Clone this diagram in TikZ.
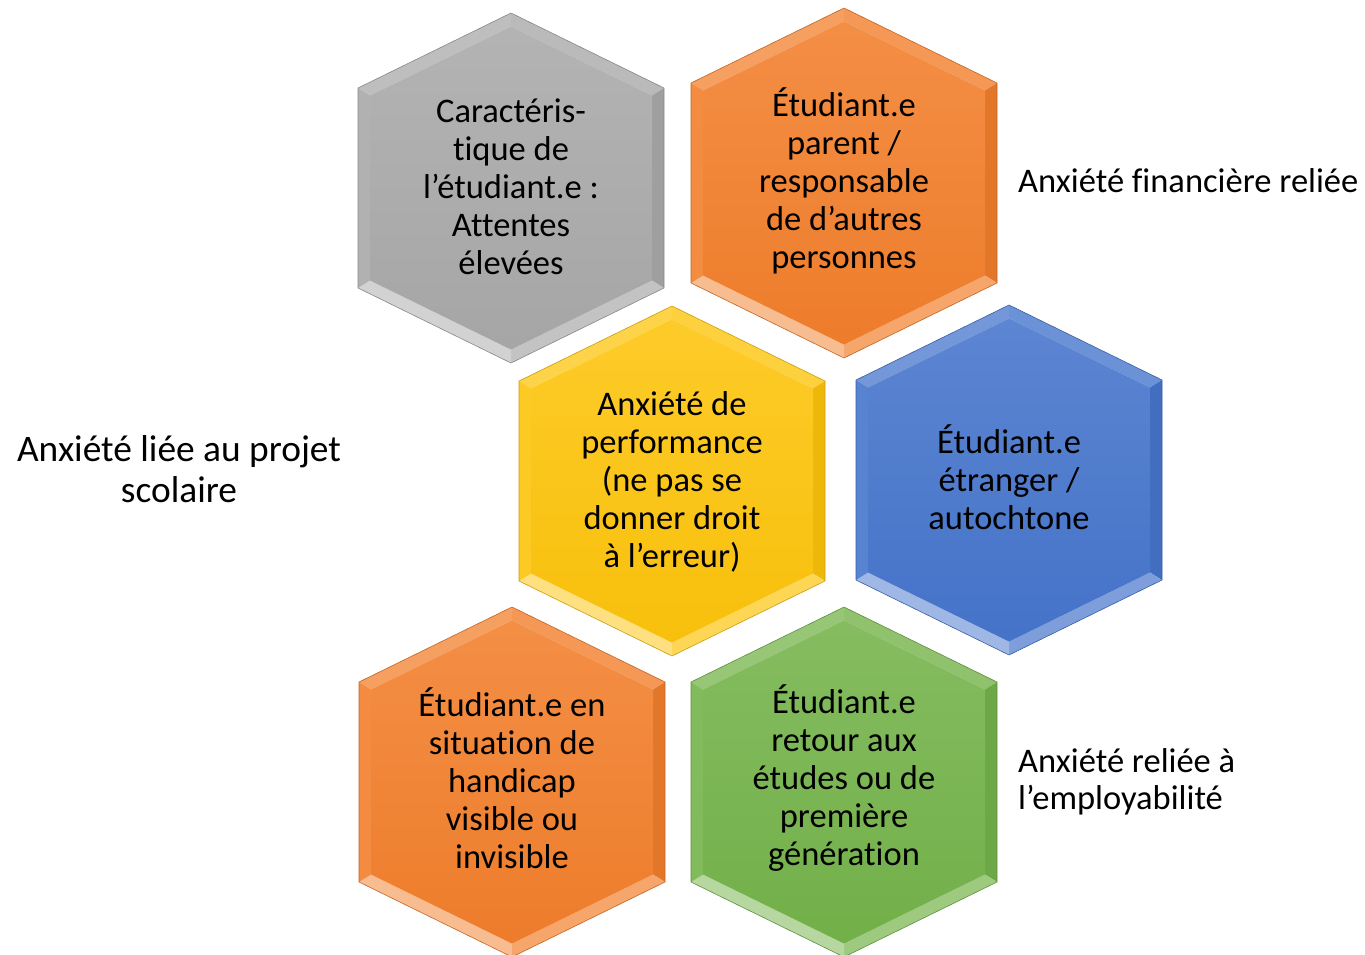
\documentclass[tikz,border=0pt]{standalone}
\usepackage{fontspec}
\setmainfont{Carlito}[Ligatures=NoCommon]
\definecolor{hgray}{HTML}{A9A9A9}
\definecolor{horange}{HTML}{F27F2C}
\definecolor{hyellow}{HTML}{FDC40C}
\definecolor{hblue}{HTML}{4675CC}
\definecolor{hgreen}{HTML}{74B34A}
\tikzset{
  hextext/.style={align=center, inner sep=0pt, font=\fontsize{34.5}{38}\selectfont, text=black},
  sidetext/.style={inner sep=0pt, font=\fontsize{34.5}{38}\selectfont, text=black},
}
\newcommand\hexcell[4]{%
\begin{scope}[shift={(#2,#3)}]
  \coordinate (#1) at (0,0);
  % facets of the bevel
  \fill[#4!75!white] (-153,-100)--(0,-175)--(0,-161.6)--(-141,-92.5)--cycle;
  \fill[#4!80!white] (0,-175)--(153,-100)--(141,-92.5)--(0,-161.6)--cycle;
  \fill[#4!94!black] (153,-100)--(153,100)--(141,92.5)--(141,-92.5)--cycle;
  \fill[#4!70!white] (153,100)--(0,175)--(0,161.6)--(141,92.5)--cycle;
  \fill[#4!52!white] (0,175)--(-153,100)--(-141,92.5)--(0,161.6)--cycle;
  \fill[#4!90!white] (-153,100)--(-153,-100)--(-141,-92.5)--(-141,92.5)--cycle;
  % face
  \shade[top color=#4!88!white, bottom color=#4!98!black]
    (0,-161.6)--(141,-92.5)--(141,92.5)--(0,161.6)--(-141,92.5)--(-141,-92.5)--cycle;
  % outline
  \draw[#4!80!black, line width=0.6pt, line join=round]
    (0,-175)--(153,-100)--(153,100)--(0,175)--(-153,100)--(-153,-100)--cycle;
\end{scope}}
\begin{document}
\begin{tikzpicture}[x=1pt,y=-1pt]
  \useasboundingbox (0,0) rectangle (1365,954);
  \hexcell{hA}{511}{188}{hgray}
  \hexcell{hB}{844}{183}{horange}
  \hexcell{hC}{672}{481}{hyellow}
  \hexcell{hD}{1009}{480}{hblue}
  \hexcell{hE}{512}{782}{horange}
  \hexcell{hF}{844}{782}{hgreen}

  \node[hextext] (tA) at ([yshift=1pt]hA) {Caractéris-\\tique de\\l’étudiant.e :\\Attentes\\élevées};
  \node[hextext] (tB) at ([yshift=2pt]hB) {Étudiant.e\\parent /\\responsable\\de d’autres\\personnes};
  \node[hextext] (tC) at ([yshift=-1pt]hC) {Anxiété de\\performance\\(ne pas se\\donner droit\\à l’erreur)};
  \node[hextext] (tD) at ([yshift=3pt]hD) {Étudiant.e\\étranger /\\autochtone};
  \node[hextext] (tE) at ([yshift=4pt]hE) {Étudiant.e en\\situation de\\handicap\\visible ou\\invisible};
  \node[hextext] (tF) at ([yshift=4pt]hF) {Étudiant.e\\retour aux\\études ou de\\première\\génération};

  \node[sidetext, anchor=west] (lfin) at (1018,181) {Anxiété financière reliée};
  \node[sidetext, align=center, font=\fontsize{37.4}{41}\selectfont] (lproj) at (179,469) {Anxiété liée au projet\\scolaire};
  \node[sidetext, align=left, anchor=west, font=\fontsize{34.5}{37}\selectfont] (lemp) at (1018,782) {Anxiété reliée à\\l’employabilité};
\end{tikzpicture}
\end{document}
